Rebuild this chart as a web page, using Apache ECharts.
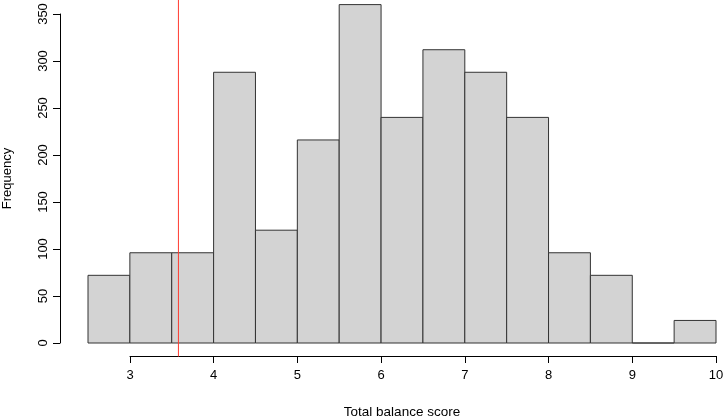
<!DOCTYPE html>
<html>
<head>
<meta charset="utf-8">
<script src="https://cdn.jsdelivr.net/npm/echarts@6/dist/echarts.min.js"></script>
<style>
    html, body { margin: 0; padding: 0; background: #fff; }
    #chart { width: 723px; height: 419px; }
</style>
</head>
<body>
<div id="chart"></div>
<script>
// bin edges of the histogram (width 0.5)
var binEdges = [2.5, 3, 3.5, 4, 4.5, 5, 5.5, 6, 6.5, 7, 7.5, 8, 8.5, 9, 9.5, 10];
// counts per bin
var counts = [72, 96, 96, 288, 120, 216, 360, 240, 312, 288, 240, 96, 72, 0, 24];
var xTicks = [3, 4, 5, 6, 7, 8, 9, 10];
var yTicks = [0, 50, 100, 150, 200, 250, 300, 350];
// reference line (red)
var cutoff = 3.58;
// plot region in data units (R adds 4% either side)
var plotYRange = [-14.4, 374.4];

var FONT = 'Liberation Sans';

var myChart = echarts.init(document.getElementById('chart'), null, {renderer: 'canvas'});

var histData = [];
for (var i = 0; i < counts.length; i++) {
    histData.push([binEdges[i], binEdges[i + 1], counts[i]]);
}

var option = {
    backgroundColor: '#ffffff',
    animation: false,
    grid: [
        {left: 88, right: 7, top: 14, bottom: 76, containLabel: false, outerBoundsMode: 'none'},
        {left: 130, right: 7, top: 300, bottom: 63, containLabel: false, outerBoundsMode: 'none'}
    ],
    xAxis: [{
        // data axis of the bars, only carries the title
        gridIndex: 0,
        type: 'value',
        min: binEdges[0],
        max: binEdges[binEdges.length - 1],
        name: 'Total balance score',
        nameLocation: 'middle',
        nameGap: 62,
        nameTextStyle: {color: '#000', fontFamily: FONT, fontSize: 13.5},
        axisLine: {show: false},
        axisTick: {show: false},
        axisLabel: {show: false},
        splitLine: {show: false}
    }, {
        gridIndex: 1,
        type: 'value',
        min: xTicks[0],
        max: xTicks[xTicks.length - 1],
        interval: 1,
        position: 'bottom',
        axisLine: {show: true, lineStyle: {color: '#000', width: 1}},
        axisTick: {show: true, length: 7, lineStyle: {color: '#000'}},
        axisLabel: {color: '#000', fontFamily: FONT, fontSize: 13, margin: 13},
        splitLine: {show: false}
    }],
    yAxis: [{
        gridIndex: 0,
        type: 'value',
        min: yTicks[0],
        max: yTicks[yTicks.length - 1],
        interval: 50,
        position: 'left',
        offset: 28,
        name: 'Frequency',
        nameLocation: 'middle',
        nameRotate: 90,
        nameGap: 46,
        nameTextStyle: {color: '#000', fontFamily: FONT, fontSize: 13},
        axisLine: {show: true, lineStyle: {color: '#000', width: 1}},
        axisTick: {show: true, length: 7, lineStyle: {color: '#000'}},
        axisLabel: {color: '#000', fontFamily: FONT, fontSize: 13, rotate: 90, margin: 10},
        splitLine: {show: false}
    }, {
        gridIndex: 1,
        type: 'value',
        show: false
    }],
    series: [{
        type: 'custom',
        xAxisIndex: 0,
        yAxisIndex: 0,
        clip: false,
        data: histData,
        renderItem: function (params, api) {
            var p0 = api.coord([api.value(0), api.value(2)]);
            var p1 = api.coord([api.value(1), 0]);
            return {
                type: 'rect',
                shape: {x: p0[0], y: p0[1], width: p1[0] - p0[0], height: p1[1] - p0[1]},
                style: {fill: '#d3d3d3', stroke: '#333333', lineWidth: 1}
            };
        }
    }, {
        type: 'custom',
        xAxisIndex: 0,
        yAxisIndex: 0,
        clip: false,
        data: [[cutoff]],
        renderItem: function (params, api) {
            var top = api.coord([api.value(0), plotYRange[1]]);
            var bottom = api.coord([api.value(0), plotYRange[0]]);
            return {
                type: 'line',
                shape: {x1: top[0], y1: top[1], x2: bottom[0], y2: bottom[1]},
                style: {stroke: '#ff3b30', lineWidth: 1}
            };
        }
    }]
};

myChart.setOption(option, true);
</script>
</body>
</html>
